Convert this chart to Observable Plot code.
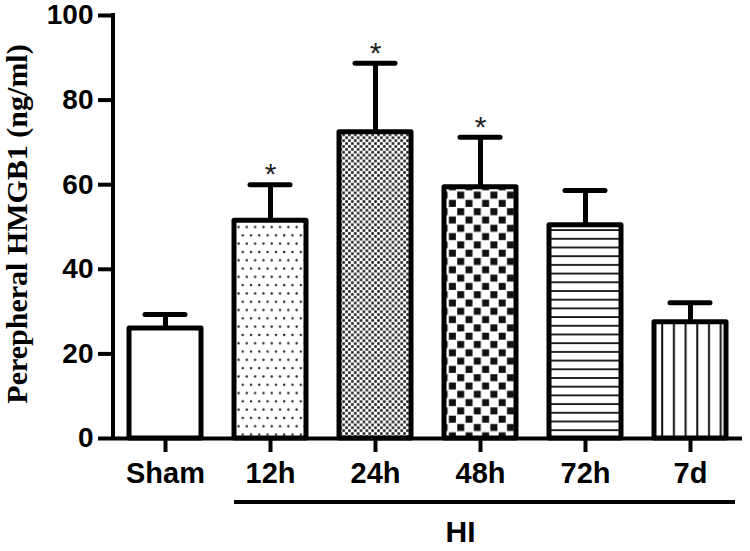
<!DOCTYPE html>
<html><head><meta charset="utf-8">
<script src="https://cdn.jsdelivr.net/npm/d3@7"></script>
<script src="https://cdn.jsdelivr.net/npm/@observablehq/plot@0.6"></script>
<style>html,body{margin:0;padding:0;background:#fff}</style>
</head><body><div id="chart"></div>
<script>
const groups = ["Sham", "12h", "24h", "48h", "72h", "7d"];
const means = [26.0, 51.5, 72.4, 59.4, 50.4, 27.5];
const sems = [3.3, 8.5, 16.3, 11.8, 8.2, 4.6];
const significant = [false, true, true, true, false, false];
const fills = ["white", "url(#pDots)", "url(#pFine)", "url(#pChecker)", "url(#pHLines)", "url(#pVLines)"];
const yTicks = [0, 20, 40, 60, 80, 100];
const hiGroups = ["12h", "7d"];
const hiLabel = "HI";
const yLabel = "Perepheral HMGB1 (ng/ml)";

const data = groups.map((g, i) => ({group: g, mean: means[i], upper: means[i] + sems[i], sig: significant[i], fill: fills[i]}));

function defsMark() {
  const defs = d3.create("svg:defs");
  const p1 = defs.append("pattern").attr("id", "pDots").attr("patternUnits", "userSpaceOnUse")
    .attr("width", 8.3).attr("height", 16.6);
  p1.append("rect").attr("width", 8.3).attr("height", 16.6).attr("fill", "white");
  p1.append("circle").attr("cx", 2).attr("cy", 3).attr("r", 1.2).attr("fill", "#222");
  p1.append("circle").attr("cx", 6.15).attr("cy", 11.3).attr("r", 1.2).attr("fill", "#222");

  const p2 = defs.append("pattern").attr("id", "pFine").attr("patternUnits", "userSpaceOnUse")
    .attr("width", 5.8).attr("height", 5.8);
  p2.append("rect").attr("width", 5.8).attr("height", 5.8).attr("fill", "white");
  p2.append("rect").attr("x", 0.2).attr("y", 0.2).attr("width", 2.5).attr("height", 2.5).attr("fill", "#111");
  p2.append("rect").attr("x", 3.1).attr("y", 3.1).attr("width", 2.5).attr("height", 2.5).attr("fill", "#111");

  const p3 = defs.append("pattern").attr("id", "pChecker").attr("patternUnits", "userSpaceOnUse")
    .attr("width", 16.6).attr("height", 16.6);
  p3.append("rect").attr("width", 16.6).attr("height", 16.6).attr("fill", "white");
  p3.append("rect").attr("x", 0.7).attr("y", 0.7).attr("width", 7).attr("height", 7).attr("fill", "#111");
  p3.append("rect").attr("x", 9).attr("y", 9).attr("width", 7).attr("height", 7).attr("fill", "#111");

  const p4 = defs.append("pattern").attr("id", "pHLines").attr("patternUnits", "userSpaceOnUse")
    .attr("width", 10).attr("height", 8.7);
  p4.append("rect").attr("width", 10).attr("height", 8.7).attr("fill", "white");
  p4.append("rect").attr("y", 3).attr("width", 10).attr("height", 1.8).attr("fill", "#111");

  const p5 = defs.append("pattern").attr("id", "pVLines").attr("patternUnits", "userSpaceOnUse")
    .attr("width", 11.7).attr("height", 10);
  p5.append("rect").attr("width", 11.7).attr("height", 10).attr("fill", "white");
  p5.append("rect").attr("x", 6).attr("width", 2).attr("height", 10).attr("fill", "#111");
  return defs.node();
}

function yAxisLine(index, scales, values, dimensions) {
  const y = scales.y;
  return d3.create("svg:line")
    .attr("x1", dimensions.marginLeft).attr("x2", dimensions.marginLeft)
    .attr("y1", y(yTicks[0]) + 2).attr("y2", y(yTicks[yTicks.length - 1]) - 2)
    .attr("stroke", "black").attr("stroke-width", 4).node();
}

function hiLine(index, scales, values, dimensions) {
  const x = scales.x, y = scales.y;
  const yy = y(0) + 64;
  return d3.create("svg:line")
    .attr("x1", x(hiGroups[0])).attr("x2", x(hiGroups[1]) + x.bandwidth() + 9)
    .attr("y1", yy).attr("y2", yy)
    .attr("stroke", "black").attr("stroke-width", 4).node();
}

const plot = Plot.plot({
  width: 750,
  height: 551,
  marginLeft: 113,
  marginRight: 8,
  marginTop: 15,
  marginBottom: 113,
  style: {fontFamily: "Liberation Sans", fontWeight: "bold", color: "black", background: "white", overflow: "visible"},
  x: {domain: groups, paddingInner: 0.314, paddingOuter: 0.15},
  y: {domain: [0, 100]},
  color: {type: "identity"},
  marks: [
    defsMark,
    Plot.axisY({ticks: yTicks, tickSize: 15, tickPadding: 5, fontSize: 28, strokeWidth: 4, label: null}),
    Plot.axisX({tickSize: 14, tickPadding: 10, fontSize: 29, strokeWidth: 4, label: null}),
    Plot.ruleX(data, {x: "group", y1: "mean", y2: "upper", strokeWidth: 5, stroke: "black"}),
    Plot.tickY(data, {x: "group", y: "upper", strokeWidth: 5, stroke: "black", insetLeft: 16, insetRight: 16, strokeLinecap: "round"}),
    Plot.barY(data, {x: "group", y: "mean", fill: "fill", stroke: "black", strokeWidth: 5, strokeLinejoin: "round"}),
    Plot.ruleY([0], {strokeWidth: 4, stroke: "black"}),
    yAxisLine,
    hiLine,
    Plot.text(data.filter(d => d.sig), {x: "group", y: "upper", text: () => "*", dy: -10, fontSize: 30, fontWeight: "normal", lineAnchor: "middle", fill: "#222"}),
    Plot.text([hiLabel], {x: () => "48h", y: () => 0, text: d => d, dx: -20, dy: 94, fontSize: 30, lineAnchor: "middle"}),
    Plot.text([yLabel], {frameAnchor: "left", textAnchor: "middle", text: d => d, rotate: -90, dx: -96, dy: -3, fontSize: 30, fontFamily: "Liberation Serif", lineAnchor: "middle"})
  ]
});
document.getElementById("chart").appendChild(plot);
</script>
</body></html>
